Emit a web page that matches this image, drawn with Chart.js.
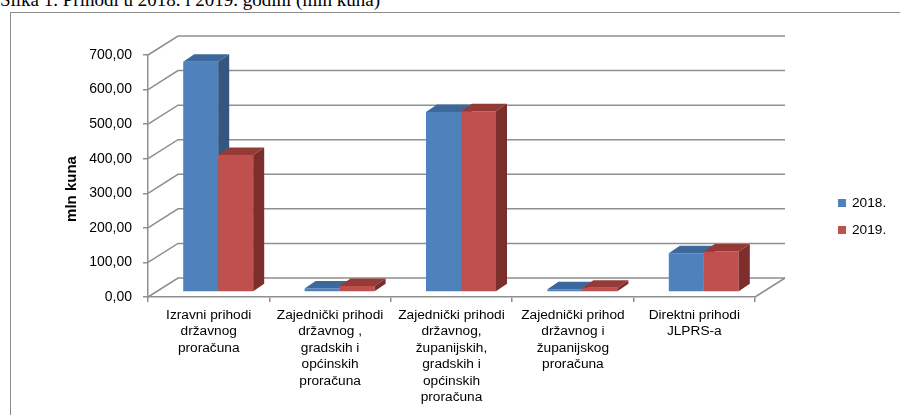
<!DOCTYPE html>
<html><head><meta charset="utf-8">
<script src="https://cdn.jsdelivr.net/npm/chart.js@4"></script>
<style>
html,body{margin:0;padding:0;background:#fff;overflow:hidden}
#wrap{position:relative;width:900px;height:415px;overflow:hidden;background:#fff}
#title{position:absolute;left:0;top:-10px;font-family:"Liberation Serif","Times New Roman",serif;font-size:19px;line-height:19px;white-space:nowrap;color:#000}
#frame{position:absolute;left:10px;top:12px;width:950px;height:500px;border:1.5px solid #8c8c8c;box-sizing:border-box}
canvas{position:absolute;left:0;top:0}
</style></head><body>
<div id="wrap"><div id="frame"></div><div id="title">Slika 1. Prihodi u 2018. i 2019. godini (mln kuna)</div><canvas id="c" width="900" height="415"></canvas></div>
<script>
const categories = [
  ['Izravni prihodi','državnog','proračuna'],
  ['Zajednički prihodi','državnog ,','gradskih i','općinskih','proračuna'],
  ['Zajednički prihodi','državnog,','županijskih,','gradskih i','općinskih','proračuna'],
  ['Zajednički prihod','državnog i','županijskog','proračuna'],
  ['Direktni prihodi','JLPRS-a']
];
const seriesNames = ['2018.', '2019.'];
const values2018 = [666, 10, 521, 8, 112];
const values2019 = [396, 17, 523, 12, 117];
const yTickLabels = ['0,00','100,00','200,00','300,00','400,00','500,00','600,00','700,00'];
const axisTitle = 'mln kuna';

const frontColors = ['#4f81bd', '#c0504d'];
const topColors = ['#3d689c', '#953a37'];
const sideColors = ['#34577f', '#7b2e2c'];

const WALL_DX = 30, WALL_DY = -19;
const FRONT_DX = 9.5, FRONT_DY = -5;
const BAR_DX = 11, BAR_DY = -7.5;
const GRID = '#8f8f8f';

const wallPlugin = {
  id: 'walls',
  beforeDatasetsDraw(chart) {
    const {ctx, chartArea: {left, right, bottom}, scales: {y}} = chart;
    ctx.save();
    ctx.strokeStyle = GRID; ctx.lineWidth = 1.5;
    y.ticks.forEach(t => {
      const py = y.getPixelForValue(t.value);
      ctx.beginPath();
      ctx.moveTo(left, py);
      ctx.lineTo(left + WALL_DX, py + WALL_DY);
      ctx.lineTo(right + WALL_DX, py + WALL_DY);
      ctx.stroke();
    });
    ctx.beginPath();
    ctx.moveTo(right, bottom);
    ctx.lineTo(right + WALL_DX, bottom + WALL_DY);
    ctx.stroke();
    ctx.restore();
  }
};

const bar3dPlugin = {
  id: 'bar3d',
  beforeDatasetDraw() { return false; },
  afterDatasetsDraw(chart) {
    const ctx = chart.ctx;
    ctx.save();
    ctx.translate(FRONT_DX, FRONT_DY);
    chart.data.datasets.forEach((ds, i) => {
      const meta = chart.getDatasetMeta(i);
      meta.data.forEach(bar => {
        bar.draw(ctx);
        const {x, y, base, width} = bar.getProps(['x','y','base','width'], true);
        const x0 = x - width / 2, x1 = x + width / 2;
        ctx.fillStyle = topColors[i];
        ctx.beginPath();
        ctx.moveTo(x0, y); ctx.lineTo(x1, y);
        ctx.lineTo(x1 + BAR_DX, y + BAR_DY); ctx.lineTo(x0 + BAR_DX, y + BAR_DY);
        ctx.closePath(); ctx.fill();
        ctx.fillStyle = sideColors[i];
        ctx.beginPath();
        ctx.moveTo(x1, y); ctx.lineTo(x1 + BAR_DX, y + BAR_DY);
        ctx.lineTo(x1 + BAR_DX, base + BAR_DY); ctx.lineTo(x1, base);
        ctx.closePath(); ctx.fill();
      });
    });
    ctx.restore();
  }
};

const legendAndTitlePlugin = {
  id: 'legendTitle',
  afterDraw(chart) {
    const ctx = chart.ctx;
    ctx.save();
    ctx.textBaseline = 'middle';
    ctx.textAlign = 'left';
    ctx.font = '13.7px "Liberation Sans", Arial, sans-serif';
    chart.data.datasets.forEach((ds, i) => {
      const cy = 203 + 27 * i;
      ctx.fillStyle = ds.backgroundColor;
      ctx.fillRect(838, cy - 4, 8, 8);
      ctx.fillStyle = '#000';
      ctx.fillText(ds.label, 852, cy + 0.5);
    });
    ctx.translate(71.5, 189);
    ctx.rotate(-Math.PI / 2);
    ctx.textAlign = 'center';
    ctx.font = 'bold 15px "Liberation Sans", Arial, sans-serif';
    ctx.fillText(axisTitle, 0, 0);
    ctx.restore();
  }
};

new Chart(document.getElementById('c'), {
  type: 'bar',
  data: {
    labels: categories,
    datasets: [
      {label: seriesNames[0], data: values2018, backgroundColor: frontColors[0]},
      {label: seriesNames[1], data: values2019, backgroundColor: frontColors[1]}
    ]
  },
  options: {
    responsive: false,
    animation: false,
    devicePixelRatio: 1,
    layout: {padding: {top: 55, right: 145, left: 0, bottom: 0}},
    datasets: {bar: {barPercentage: 1, categoryPercentage: 0.5766, borderWidth: 0}},
    plugins: {legend: {display: false}, tooltip: {enabled: false}},
    scales: {
      x: {
        afterFit: s => { s.height = 118; },
        grid: {drawOnChartArea: false, drawTicks: true, tickLength: 5, color: GRID, lineWidth: 1.5},
        border: {display: true, color: GRID, width: 1.5},
        ticks: {color: '#000', font: {family: '"Liberation Sans", Arial, sans-serif', size: 13.7}, padding: 5, maxRotation: 0, autoSkip: false}
      },
      y: {
        min: 0, max: 700,
        afterFit: s => { s.width = 148; },
        grid: {drawOnChartArea: false, drawTicks: true, tickLength: 5, color: GRID, lineWidth: 1.5},
        border: {display: true, color: GRID, width: 1.5},
        ticks: {stepSize: 100, color: '#000', padding: 11,
          font: {family: '"Liberation Sans", Arial, sans-serif', size: 14},
          callback: (v, i) => yTickLabels[i]}
      }
    }
  },
  plugins: [wallPlugin, bar3dPlugin, legendAndTitlePlugin]
});
</script>
</body></html>
